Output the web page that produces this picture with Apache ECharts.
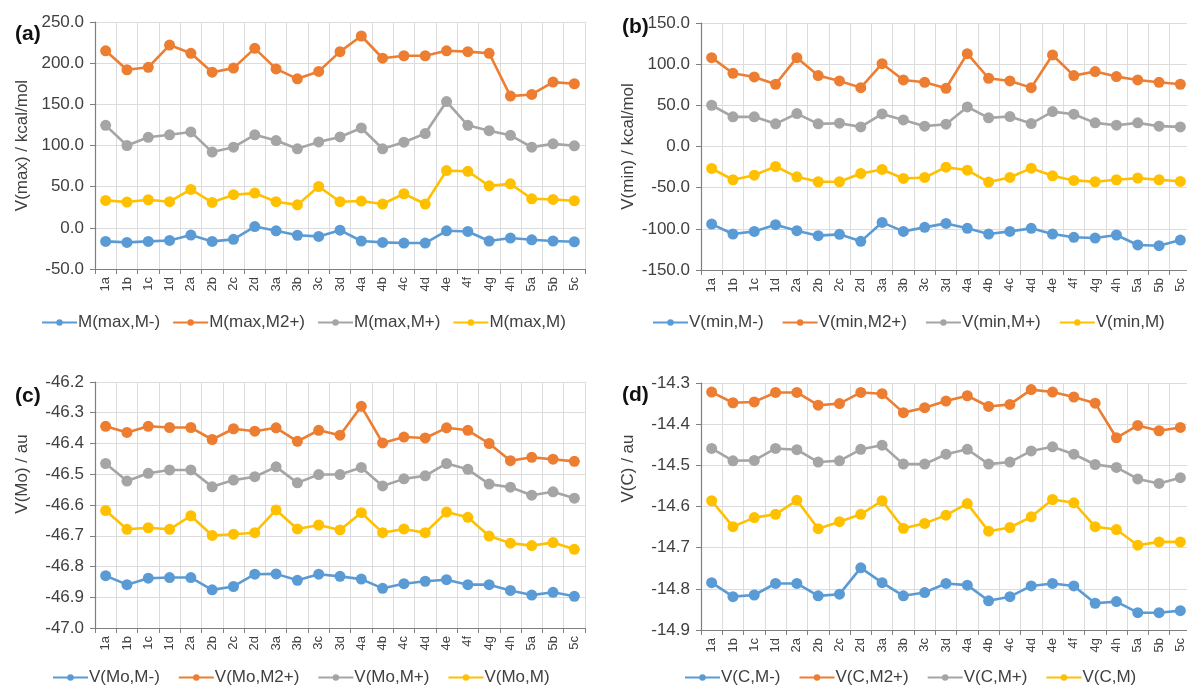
<!DOCTYPE html>
<html>
<head>
<meta charset="utf-8">
<script src="https://cdn.jsdelivr.net/npm/echarts@6.0.0/dist/echarts.min.js"></script>
<style>
  html, body { margin: 0; padding: 0; background: #fff; }
  #chart { width: 1187px; height: 689px; }
</style>
</head>
<body>
<div id="chart"></div>
<script>
// Shared categories (complexes)
const categories = ['1a','1b','1c','1d','2a','2b','2c','2d','3a','3b','3c','3d',
  '4a','4b','4c','4d','4e','4f','4g','4h','5a','5b','5c'];

// (a) V(max) / kcal/mol
const maxNames = ['M(max,M-)', 'M(max,M2+)', 'M(max,M+)', 'M(max,M)'];
const maxMminus = [-16.5,-17.7,-16.5,-15.3,-8.8,-16.5,-14.0,1.6,-3.6,-9.0,-10.4,-2.8,-16.0,-17.7,-18.5,-18.5,-3.6,-4.4,-16.0,-12.4,-14.5,-16.0,-16.9];
const maxM2plus = [215,192,195,222,212,189,194,218,193,181,190,214,233,206,209,209,215,214,212,160,162,177,175];
const maxMplus  = [124.5,100,110,113,116.5,92,98,113,106,96,104.4,110.4,121.3,96,104,114.5,153.4,124.5,118,112.4,98,102,99.6];
const maxM      = [33.3,31.3,34.1,31.7,46.6,30.9,40.2,42.2,31.7,27.9,50.2,31.7,32.5,28.9,41.4,28.9,69.5,68.7,51.0,53.4,35.3,34.5,32.9];

// (b) V(min) / kcal/mol
const minNames = ['V(min,M-)', 'V(min,M2+)', 'V(min,M+)', 'V(min,M)'];
const minMminus = [-94.2,-106.3,-103.1,-95.0,-102.3,-108.3,-106.7,-115.2,-92.2,-103.1,-98.2,-93.4,-99.4,-106.3,-103.1,-99.4,-106.3,-110.3,-111.2,-107.5,-119.6,-120.5,-113.6];
const minM2plus = [107.9,88.9,84.5,75.6,107.9,86.1,79.6,71.5,100.6,80.8,78.0,70.7,112.8,82.9,79.6,71.5,111.2,86.1,91.0,84.9,80.8,78.0,75.6];
const minMplus  = [50.1,36.0,36.0,27.5,40.0,27.5,28.3,23.8,39.6,32.3,24.7,27.1,48.1,34.8,36.4,27.9,42.4,39.2,28.7,25.9,28.7,24.7,23.8];
const minM      = [-26.7,-40.4,-34.8,-24.3,-36.8,-42.8,-42.8,-32.7,-27.9,-38.8,-37.6,-25.1,-28.7,-43.2,-37.6,-26.3,-35.6,-41.2,-42.8,-40.4,-38.4,-40.4,-42.4];

// (c) V(Mo) / au
const moNames = ['V(Mo,M-)', 'V(Mo,M2+)', 'V(Mo,M+)', 'V(Mo,M)'];
const moMminus = [-46.830,-46.859,-46.838,-46.836,-46.836,-46.876,-46.865,-46.825,-46.824,-46.845,-46.825,-46.832,-46.841,-46.871,-46.856,-46.848,-46.843,-46.859,-46.859,-46.878,-46.893,-46.884,-46.897];
const moM2plus = [-46.344,-46.364,-46.344,-46.348,-46.348,-46.387,-46.352,-46.360,-46.349,-46.393,-46.357,-46.373,-46.279,-46.398,-46.379,-46.382,-46.349,-46.357,-46.400,-46.456,-46.445,-46.451,-46.458];
const moMplus  = [-46.465,-46.522,-46.497,-46.486,-46.486,-46.541,-46.519,-46.508,-46.476,-46.528,-46.501,-46.501,-46.478,-46.538,-46.515,-46.505,-46.465,-46.484,-46.532,-46.542,-46.568,-46.557,-46.578];
const moM      = [-46.618,-46.679,-46.674,-46.679,-46.635,-46.699,-46.695,-46.690,-46.616,-46.678,-46.665,-46.681,-46.625,-46.690,-46.678,-46.690,-46.623,-46.640,-46.701,-46.724,-46.732,-46.722,-46.744];

// (d) V(C) / au
const cNames = ['V(C,M-)', 'V(C,M2+)', 'V(C,M+)', 'V(C,M)'];
const cMminus = [-14.785,-14.819,-14.815,-14.787,-14.787,-14.817,-14.813,-14.749,-14.785,-14.817,-14.809,-14.787,-14.791,-14.829,-14.819,-14.793,-14.787,-14.793,-14.835,-14.831,-14.858,-14.858,-14.853];
const cM2plus = [-14.322,-14.348,-14.346,-14.323,-14.323,-14.354,-14.350,-14.323,-14.326,-14.372,-14.360,-14.344,-14.331,-14.357,-14.352,-14.316,-14.322,-14.334,-14.349,-14.433,-14.403,-14.416,-14.408];
const cMplus  = [-14.459,-14.489,-14.488,-14.459,-14.462,-14.492,-14.489,-14.461,-14.451,-14.497,-14.497,-14.473,-14.461,-14.497,-14.492,-14.465,-14.455,-14.473,-14.498,-14.505,-14.533,-14.544,-14.530];
const cM      = [-14.586,-14.649,-14.627,-14.619,-14.585,-14.654,-14.637,-14.619,-14.586,-14.653,-14.641,-14.621,-14.593,-14.660,-14.651,-14.625,-14.583,-14.591,-14.649,-14.656,-14.694,-14.686,-14.686];

const colors = ['#5B9BD5', '#ED7D31', '#A5A5A5', '#FFC000'];
const textColor = '#404040';
const font = 'Liberation Sans, Arial, sans-serif';

const panels = [
  { tag: '(a)', yName: 'V(max) / kcal/mol', min: -50, max: 250, step: 50,
    names: maxNames, data: [maxMminus, maxM2plus, maxMplus, maxM],
    grid: { left: 95, top: 22, width: 490, height: 247 },
    legend: { left: 41, top: 314, gap: 12 }, tagPos: [15, 36], namePad: 0 },
  { tag: '(b)', yName: 'V(min) / kcal/mol', min: -150, max: 150, step: 50,
    names: minNames, data: [minMminus, minM2plus, minMplus, minM],
    grid: { left: 701, top: 23, width: 490, height: 247 },
    legend: { left: 652, top: 314, gap: 18 }, tagPos: [622, 29], namePad: 0 },
  { tag: '(c)', yName: 'V(Mo) / au', min: -47.0, max: -46.2, step: 0.1,
    names: moNames, data: [moMminus, moM2plus, moMplus, moM],
    grid: { left: 95, top: 382, width: 490, height: 246 },
    legend: { left: 52, top: 669, gap: 18 }, tagPos: [15, 398], namePad: 62 },
  { tag: '(d)', yName: 'V(C) / au', min: -14.9, max: -14.3, step: 0.1,
    names: cNames, data: [cMminus, cM2plus, cMplus, cM],
    grid: { left: 701, top: 383, width: 490, height: 247 },
    legend: { left: 684, top: 669, gap: 18 }, tagPos: [622, 397], namePad: 76 }
];

const option = {
  animation: false,
  backgroundColor: '#fff',
  textStyle: { fontFamily: font },
  grid: [], xAxis: [], yAxis: [], legend: [], series: [], graphic: []
};

panels.forEach((p, i) => {
  option.grid.push(Object.assign({ containLabel: false, outerBoundsMode: 'none' }, p.grid));
  option.xAxis.push({
    type: 'category', gridIndex: i, data: categories, boundaryGap: true,
    axisLine: { onZero: false, lineStyle: { color: '#7f7f7f', width: 1.2 } },
    axisTick: { show: true, interval: 0, length: 5, lineStyle: { color: '#7f7f7f' } },
    axisLabel: { interval: 0, rotate: 90, fontSize: 13, color: textColor, margin: 8, fontFamily: font },
    splitLine: { show: true, interval: 0, lineStyle: { color: '#dcdcdc', width: 1 } }
  });
  option.yAxis.push({
    type: 'value', gridIndex: i, min: p.min, max: p.max, interval: p.step,
    name: p.yName, nameLocation: 'middle', nameGap: 64,
    nameTextStyle: { fontSize: 17, color: textColor, fontFamily: font,
      padding: [0, 0, 0, p.namePad] },
    axisLine: { show: true, onZero: false, lineStyle: { color: '#7f7f7f', width: 1.2 } },
    axisTick: { show: true, length: 5, lineStyle: { color: '#7f7f7f' } },
    axisLabel: { fontSize: 17, color: textColor, margin: 11, fontFamily: font,
      formatter: v => v.toFixed(1) },
    splitLine: { show: true, lineStyle: { color: '#dcdcdc', width: 1 } }
  });
  option.legend.push({
    left: p.legend.left, top: p.legend.top, orient: 'horizontal', width: 620,
    padding: 0,
    data: p.names, itemWidth: 35, itemHeight: 8, itemGap: p.legend.gap,
    textStyle: { fontSize: 17, color: textColor, fontFamily: font, padding: [0, 0, 0, -4] }
  });
  p.names.forEach((name, k) => {
    option.series.push({
      type: 'line', name: name, xAxisIndex: i, yAxisIndex: i,
      data: p.data[k], symbol: 'circle', symbolSize: 11,
      lineStyle: { color: colors[k], width: 2.6 },
      itemStyle: { color: colors[k] },
      emphasis: { disabled: true }
    });
  });
  option.graphic.push({
    type: 'text', left: p.tagPos[0], top: p.tagPos[1] - 12, z: 100,
    style: { text: p.tag, fontSize: 21, fontWeight: 'bold', fill: '#111', fontFamily: font }
  });
});

const chart = echarts.init(document.getElementById('chart'), null, { renderer: 'canvas' });
chart.setOption(option);
</script>
</body>
</html>
